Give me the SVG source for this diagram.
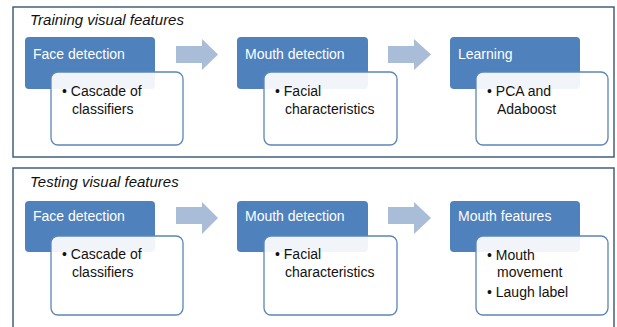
<svg xmlns="http://www.w3.org/2000/svg" width="617" height="327" viewBox="0 0 617 327">
<defs>
<style>
.panel{fill:#ffffff;stroke:#41607f;stroke-width:1.5}
.hdr{fill:#4f81bd}
.box{fill:#ffffff;fill-opacity:0.92;stroke:#5b86b8;stroke-width:1.3}
.arrow{fill:#a9bcd8}
.title{font-family:"Liberation Sans",Arial,sans-serif;font-style:italic;font-size:15px;fill:#111}
.htxt{font-family:"Liberation Sans",Arial,sans-serif;font-size:14px;fill:#ffffff}
.btxt{font-family:"Liberation Sans",Arial,sans-serif;font-size:14px;fill:#111}
</style>
</defs>
<rect x="0" y="0" width="617" height="327" fill="#ffffff"/>
<g id="panel-training">
<rect class="panel" x="13" y="7" width="601" height="150"/>
<text class="title" x="30" y="25">Training visual features</text>
</g>
<g id="panel-testing">
<rect class="panel" x="13" y="168" width="601" height="170"/>
<text class="title" x="30" y="187">Testing visual features</text>
</g>
<g id="connectors">
<path class="arrow" d="M176,46 H202 V39 L218,54.5 L202,70 V63 H176 Z"/>
<path class="arrow" d="M388,46 H414 V39 L431,54.5 L414,70 V63 H388 Z"/>
<path class="arrow" d="M176,207 H202 V202 L218,218 L202,234 V224 H176 Z"/>
<path class="arrow" d="M388,207 H414 V202 L431,218 L414,234 V224 H388 Z"/>
</g>
<g id="train-face">
<rect class="hdr" x="25" y="37" width="130" height="52" rx="4"/>
<rect class="box" x="51" y="72" width="132" height="73" rx="7"/>
<text class="htxt" x="33" y="59">Face detection</text>
<text class="btxt" x="62" y="96">• Cascade of</text>
<text class="btxt" x="72" y="114">classifiers</text>
</g>
<g id="train-mouth">
<rect class="hdr" x="237" y="37" width="131" height="52" rx="4"/>
<rect class="box" x="264" y="72" width="133" height="73" rx="7"/>
<text class="htxt" x="245" y="59">Mouth detection</text>
<text class="btxt" x="275" y="96">• Facial</text>
<text class="btxt" x="285" y="114">characteristics</text>
</g>
<g id="train-learning">
<rect class="hdr" x="450" y="37" width="130" height="52" rx="4"/>
<rect class="box" x="476" y="72" width="132" height="73" rx="7"/>
<text class="htxt" x="458" y="59">Learning</text>
<text class="btxt" x="487" y="96">• PCA and</text>
<text class="btxt" x="497" y="114">Adaboost</text>
</g>
<g id="test-face">
<rect class="hdr" x="25" y="201" width="130" height="51" rx="4"/>
<rect class="box" x="51" y="236" width="132" height="79" rx="7"/>
<text class="htxt" x="33" y="221">Face detection</text>
<text class="btxt" x="62" y="259">• Cascade of</text>
<text class="btxt" x="72" y="277">classifiers</text>
</g>
<g id="test-mouth">
<rect class="hdr" x="237" y="201" width="131" height="51" rx="4"/>
<rect class="box" x="264" y="236" width="133" height="79" rx="7"/>
<text class="htxt" x="245" y="221">Mouth detection</text>
<text class="btxt" x="275" y="259">• Facial</text>
<text class="btxt" x="285" y="277">characteristics</text>
</g>
<g id="test-mouthfeatures">
<rect class="hdr" x="450" y="201" width="130" height="51" rx="4"/>
<rect class="box" x="476" y="236" width="132" height="79" rx="7"/>
<text class="htxt" x="458" y="221">Mouth features</text>
<text class="btxt" x="487" y="260">• Mouth</text>
<text class="btxt" x="497" y="277">movement</text>
<text class="btxt" x="487" y="297">• Laugh label</text>
</g>
</svg>
